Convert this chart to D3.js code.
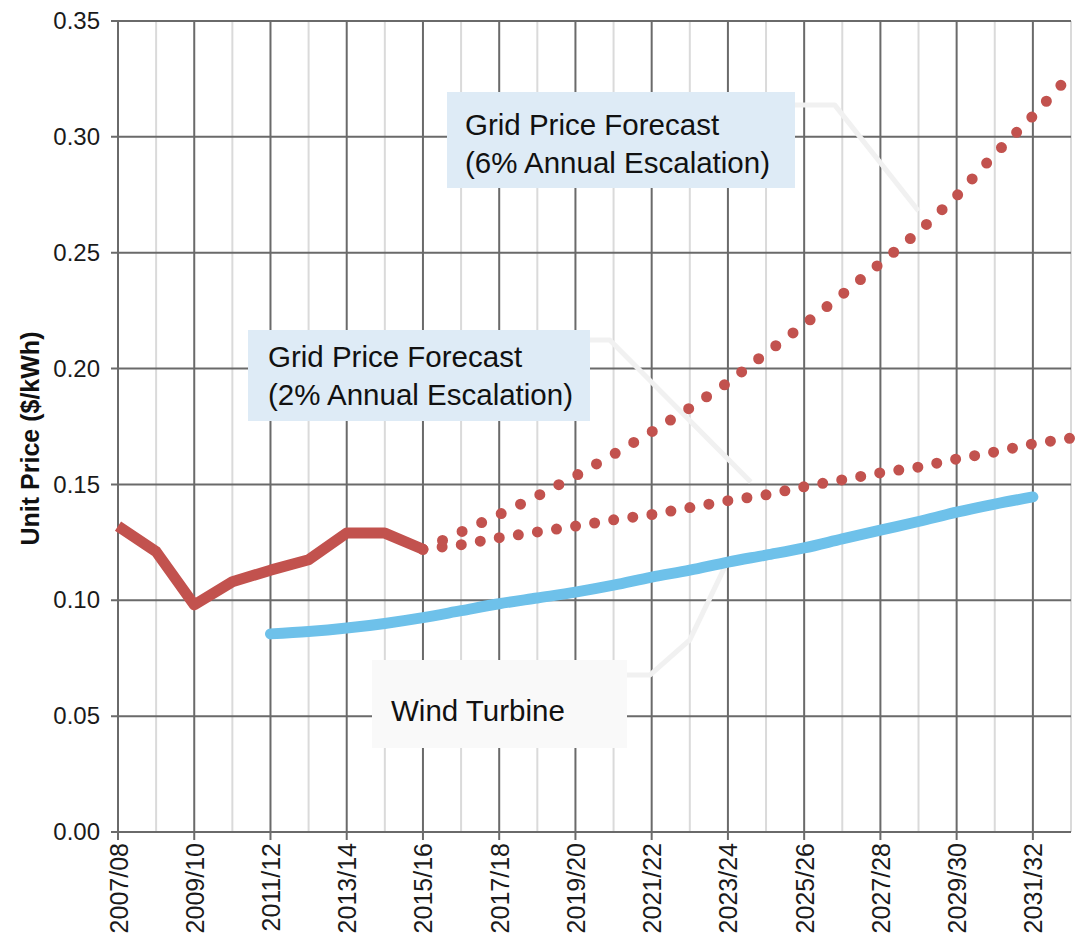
<!DOCTYPE html>
<html>
<head>
<meta charset="utf-8">
<script src="https://cdn.jsdelivr.net/npm/d3@7"></script>
<style>
  html, body { margin: 0; padding: 0; background: #ffffff; }
  svg { display: block; font-family: "Liberation Sans", Arial, sans-serif; }
</style>
</head>
<body>
<svg id="chart" width="1076" height="936"></svg>
<script>
// ---------------- data ----------------
const categories = [
  "2007/08","2008/09","2009/10","2010/11","2011/12","2012/13","2013/14",
  "2014/15","2015/16","2016/17","2017/18","2018/19","2019/20","2020/21",
  "2021/22","2022/23","2023/24","2024/25","2025/26","2026/27","2027/28",
  "2028/29","2029/30","2030/31","2031/32","2032/33"
];
const xTickLabels = [
  "2007/08","2009/10","2011/12","2013/14","2015/16","2017/18","2019/20",
  "2021/22","2023/24","2025/26","2027/28","2029/30","2031/32"
];
const yTicks = [0.00, 0.05, 0.10, 0.15, 0.20, 0.25, 0.30, 0.35];

// Historical grid price (2007/08 – 2015/16)
const gridActualCats = categories.slice(0, 9);
const gridActual = [0.132, 0.121, 0.098, 0.108, 0.113, 0.1175, 0.129, 0.129, 0.122];

// Forecasts (2015/16 – 2032/33)
const forecastCats = categories.slice(8);
const forecast2pct = [0.122, 0.124, 0.127, 0.1295, 0.132, 0.1347, 0.137, 0.140, 0.143,
                      0.1455, 0.149, 0.152, 0.155, 0.1575, 0.161, 0.164, 0.1675, 0.170];
const forecast6pct = [0.122, 0.1295, 0.137, 0.145, 0.1537, 0.163, 0.1727, 0.183, 0.194,
                      0.2067, 0.219, 0.232, 0.2455, 0.259, 0.2745, 0.2925, 0.309, 0.327];

// Wind turbine (2011/12 – 2031/32)
const windCats = categories.slice(4, 25);
const windTurbine = [0.0855, 0.0865, 0.088, 0.090, 0.0925, 0.0955, 0.0985, 0.101, 0.1035,
                     0.1065, 0.110, 0.113, 0.1165, 0.1195, 0.1226, 0.1265, 0.1303, 0.134,
                     0.138, 0.1415, 0.1446];

const yTitle = "Unit Price ($/kWh)";
const labelWind = ["Wind Turbine"];
const label2 = ["Grid Price Forecast", "(2% Annual Escalation)"];
const label6 = ["Grid Price Forecast", "(6% Annual Escalation)"];

// ---------------- layout ----------------
const svg = d3.select("#chart");
const plotL = 118, plotR = 1071, plotT = 21, plotB = 832;

const x = d3.scalePoint().domain(categories).range([plotL, plotR]).padding(0);
const y = d3.scaleLinear().domain([0, 0.35]).range([plotB, plotT]);
const xAt = i => x(categories[0]) + i * x.step();   // fractional category position

const majorGrid = "#6a6a6a";
const minorGrid = "#dadada";
const red = "#c2524e";
const blue = "#6ec1ea";

// minor vertical grid (odd years)
svg.append("g").selectAll("line")
  .data(categories.filter((c, i) => i % 2 === 1))
  .join("line")
  .attr("x1", d => x(d)).attr("x2", d => x(d))
  .attr("y1", y(0.35)).attr("y2", y(0))
  .attr("stroke", minorGrid).attr("stroke-width", 2);

// major vertical grid
svg.append("g").selectAll("line")
  .data(categories.filter((c, i) => i % 2 === 0))
  .join("line")
  .attr("x1", d => x(d)).attr("x2", d => x(d))
  .attr("y1", y(0.35)).attr("y2", y(0) + 8)
  .attr("stroke", majorGrid).attr("stroke-width", 2);

// horizontal grid
svg.append("g").selectAll("line")
  .data(yTicks)
  .join("line")
  .attr("x1", plotL - 7).attr("x2", plotR)
  .attr("y1", d => y(d)).attr("y2", d => y(d))
  .attr("stroke", majorGrid).attr("stroke-width", 2);

// y axis labels
const yAxis = d3.axisLeft(y).tickValues(yTicks).tickFormat(d3.format(".2f")).tickSize(0).tickPadding(18);
const yg = svg.append("g").attr("transform", `translate(${plotL},0)`).call(yAxis);
yg.select(".domain").remove();
yg.selectAll("text").attr("font-size", 24).attr("fill", "#1a1a1a")
  .attr("font-family", '"Liberation Sans", Arial, sans-serif');

// x axis labels
const xAxis = d3.axisBottom(x).tickValues(xTickLabels).tickSize(0).tickPadding(0);
const xg = svg.append("g").attr("transform", `translate(0,${plotB})`).call(xAxis);
xg.select(".domain").remove();
xg.selectAll("text")
  .attr("font-size", 25).attr("fill", "#1a1a1a")
  .attr("font-family", '"Liberation Sans", Arial, sans-serif')
  .attr("text-anchor", "end")
  .attr("transform", "rotate(-90)")
  .attr("x", -11).attr("y", 0).attr("dy", "0.36em");

// y title
svg.append("text")
  .attr("transform", `translate(39,${(plotT + plotB) / 2 + 12}) rotate(-90)`)
  .attr("text-anchor", "middle")
  .attr("font-size", 25).attr("font-weight", "bold").attr("fill", "#111")
  .text(yTitle);

// ---------------- callout leader lines (faint) ----------------
const callouts = [
  [[17.76, 0.3138], [18.8, 0.3138], [21.0, 0.268]],
  [[12.38, 0.2123], [12.9, 0.2123], [16.6, 0.151]],
  [[15.98, 0.1165], [15.0, 0.0829], [13.96, 0.0678], [13.35, 0.0678]]
];
const calloutLine = d3.line().x(d => xAt(d[0])).y(d => y(d[1]));
svg.append("g").selectAll("path")
  .data(callouts)
  .join("path")
  .attr("d", calloutLine)
  .attr("fill", "none").attr("stroke", "#f1f1f1").attr("stroke-width", 5)
  .attr("stroke-linejoin", "round");

// ---------------- annotation boxes ----------------
function labelBox(lines, bx, by, bw, bh, tx, ty, fill) {
  const g = svg.append("g");
  g.append("rect").attr("x", bx).attr("y", by).attr("width", bw).attr("height", bh)
    .attr("fill", fill);
  g.selectAll("text").data(lines).join("text")
    .attr("x", tx).attr("y", (d, i) => ty + i * 37.5)
    .attr("font-size", 29.5).attr("fill", "#111")
    .text(d => d);
}
labelBox(label6, 447, 92, 348, 96, 465, 135, "#deebf6");
labelBox(label2, 248, 330, 342, 91, 268, 367, "#deebf6");
labelBox(labelWind, 372, 660, 255, 88, 391, 721, "#f9f9f9");

// ---------------- series ----------------
const zip = (cats, vals) => cats.map((c, i) => ({ c, v: vals[i] }));

// wind turbine
svg.append("path")
  .datum(zip(windCats, windTurbine))
  .attr("d", d3.line().x(d => x(d.c)).y(d => y(d.v)).curve(d3.curveMonotoneX))
  .attr("fill", "none").attr("stroke", blue).attr("stroke-width", 11)
  .attr("stroke-linecap", "round").attr("stroke-linejoin", "round");

// forecasts (dotted)
const dotted = d3.line().x(d => x(d.c)).y(d => y(d.v));
svg.append("path")
  .datum(zip(forecastCats, forecast2pct))
  .attr("d", dotted)
  .attr("fill", "none").attr("stroke", red).attr("stroke-width", 11)
  .attr("stroke-linecap", "round").attr("stroke-dasharray", "0 19.3");
svg.append("path")
  .datum(zip(forecastCats, forecast6pct))
  .attr("d", dotted)
  .attr("fill", "none").attr("stroke", red).attr("stroke-width", 11)
  .attr("stroke-linecap", "round").attr("stroke-dasharray", "0 21.5");

// historical grid price
svg.append("path")
  .datum(zip(gridActualCats, gridActual))
  .attr("d", d3.line().x(d => x(d.c)).y(d => y(d.v)))
  .attr("fill", "none").attr("stroke", red).attr("stroke-width", 11)
  .attr("stroke-linejoin", "round").attr("stroke-linecap", "butt");
</script>
</body>
</html>
